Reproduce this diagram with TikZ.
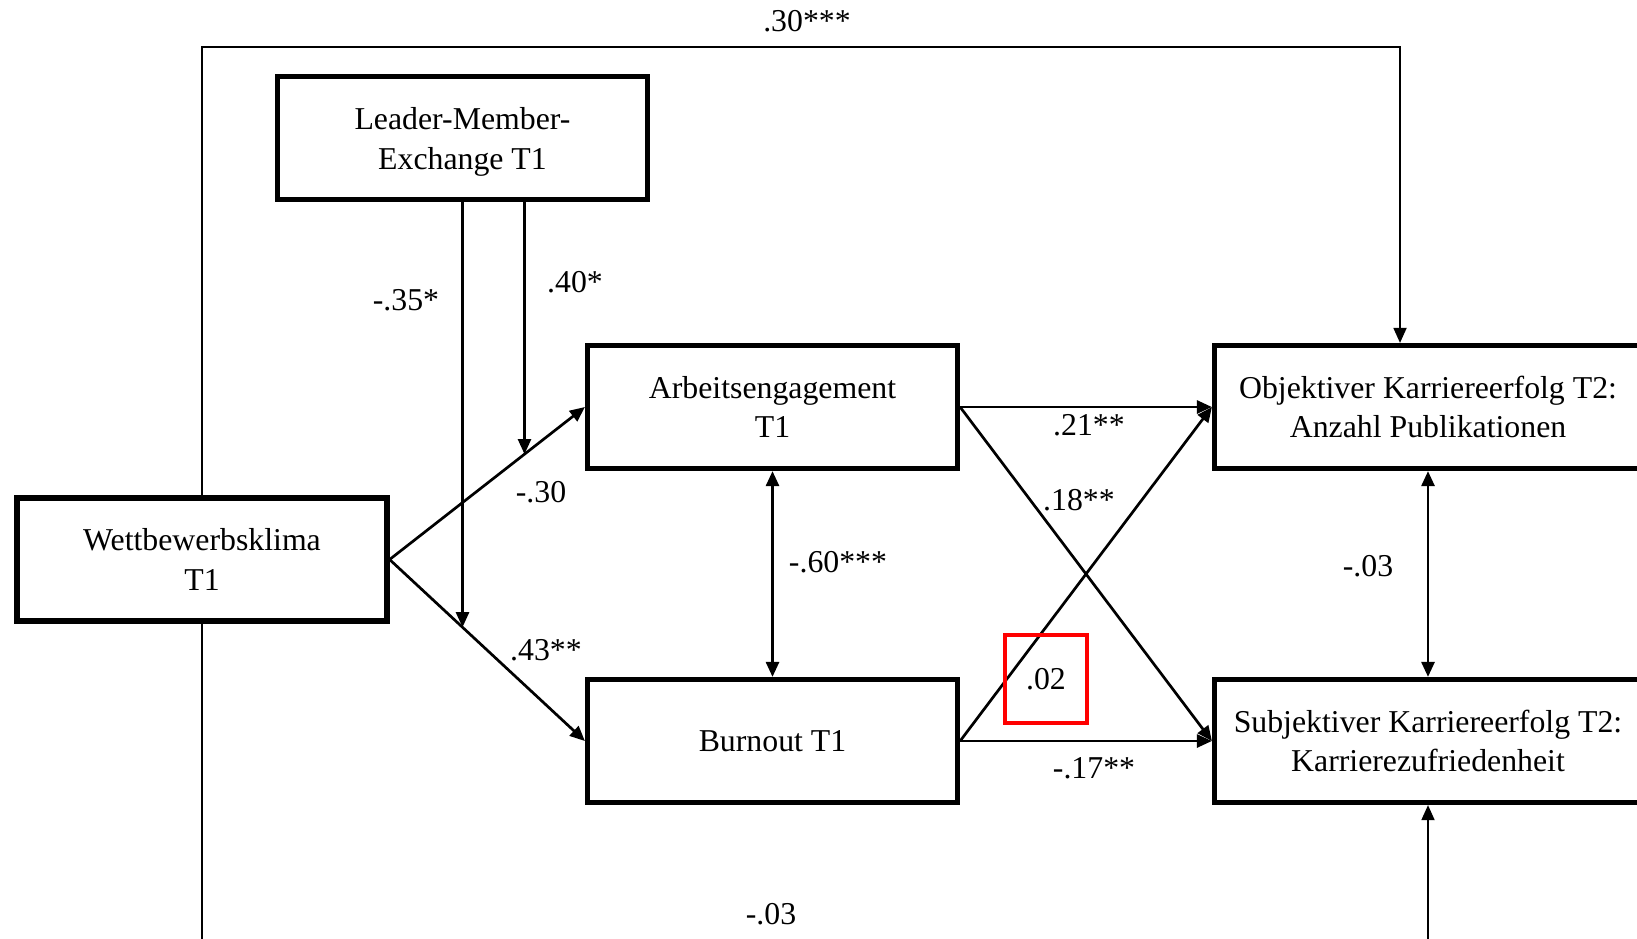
\documentclass[tikz,border=0pt]{standalone}
\usepackage{fontspec}
\setmainfont{Liberation Serif}
\usetikzlibrary{arrows.meta,intersections,calc}
\begin{document}
\begin{tikzpicture}[x=1pt,y=-1pt,
  every node/.style={font=\fontsize{31.8}{39.5}\selectfont},
  box/.style={draw,line width=5.2pt,minimum width=370pt,minimum height=123pt,align=center,inner sep=0pt},
  widebox/.style={box,minimum width=427pt},
  tip/.style={-{Triangle[length=15pt,width=13pt]}},
  conn/.style={tip,line width=2.7pt},
  dbl/.style={{Triangle[length=15pt,width=13pt]}-{Triangle[length=15pt,width=13pt]},line width=2.7pt},
  modline/.style={tip,line width=2.3pt},
  direct/.style={line width=1.8pt},
  lbl/.style={inner sep=0pt},
  hlbox/.style={draw=red,line width=3.2pt,minimum width=82pt,minimum height=88pt,inner sep=0pt}
]
% canvas
\fill[white] (0,0) rectangle (1637,938);
\useasboundingbox (0,0) rectangle (1637,938);

% variables
\node[box] (L) at (462.5,138) {};
\node[align=center,inner sep=0pt] (Ltext) at ([yshift=-4pt]L.center) {Leader-Member-\\Exchange T1};
\node[box] (W) at (202,559.5) {Wettbewerbsklima\\T1};
\node[box] (A) at (772.5,407) {Arbeitsengagement\\T1};
\node[box] (B) at (772.5,741) {Burnout T1};
\node[widebox] (O) at (1428,407) {Objektiver Karriereerfolg T2:\\Anzahl Publikationen};
\node[widebox] (S) at (1428,741) {Subjektiver Karriereerfolg T2:\\Karrierezufriedenheit};

% paths from the predictor to the mediators
\draw[conn,name path=wa] (W.east) -- (A.west);
\draw[conn,name path=wb] (W.east) -- (B.west);

% moderation by LMX onto both paths
\path[name path=v1] (L.south) -- ++(0,600);
\path[name path=v2] ([xshift=62pt]L.south) -- ++(0,600);
\path[name intersections={of=v2 and wa,by=m1}];
\path[name intersections={of=v1 and wb,by=m2}];
\draw[modline] ([xshift=62pt]L.south) -- (m1);
\draw[modline] (L.south) -- (m2);

% mediators to outcomes
\draw[conn] (A.east) -- (O.west);
\draw[conn] (A.east) -- (S.west);
\draw[conn] (B.east) -- (O.west);
\draw[conn] (B.east) -- (S.west);

% correlations
\draw[dbl] (A.south) -- (B.north);
\draw[dbl] (O.south) -- (S.north);

% direct effects
\coordinate (tl) at (202,47);
\coordinate (tr) at (1400,47);
\draw[direct,tip] (W.north) -- (tl) -- (tr) -- (tr |- O.north);
\coordinate (bl) at (202,958);
\draw[direct,tip] (W.south) -- (bl) -| (S.south);

% coefficients
\node[lbl] (c30) at (807,21) {.30***};
\node[lbl] (c35) at (406,300) {-.35*};
\node[lbl] (c40) at (575,282) {.40*};
\node[lbl] (cm30) at (541,492) {-.30};
\node[lbl] (c43) at (546,650) {.43**};
\node[lbl] (c60) at (838,562) {-.60***};
\node[lbl] (c21) at (1089,425) {.21**};
\node[lbl] (c18) at (1079,500) {.18**};
\node[hlbox] (c02) at (1046,679) {.02};
\node[lbl] (c17) at (1094,768) {-.17**};
\node[lbl] (c03a) at (1368,566) {-.03};
\node[lbl] (c03b) at (771,914) {-.03};
\end{tikzpicture}
\end{document}
